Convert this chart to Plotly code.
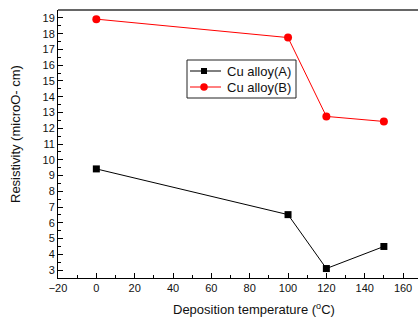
import plotly.graph_objects as go

temps = [0, 100, 120, 150]
alloy_a = [9.42, 6.52, 3.1, 4.5]
alloy_b = [18.92, 17.75, 12.75, 12.43]
names = ["Cu alloy(A)", "Cu alloy(B)"]
colors = ["black", "#ff0000"]
symbols = ["square", "circle"]
sizes = [7, 8]
legend_sizes = [6, 7.5]
x_ticks = [-20, 0, 20, 40, 60, 80, 100, 120, 140, 160]
y_ticks = list(range(3, 20))

W, H = 418, 321
ml, mt, mb = 58, 10, 43
bottom_px = H - mb

fig = go.Figure()
for xs, ys, nm, c, s, sz in [(temps, alloy_a, names[0], colors[0], symbols[0], sizes[0]),
                             (temps, alloy_b, names[1], colors[1], symbols[1], sizes[1])]:
    fig.add_trace(go.Scatter(x=xs, y=ys, mode="lines+markers", name=nm,
                             line=dict(color=c, width=1),
                             marker=dict(symbol=s, size=sz, color=c), showlegend=False))

# custom legend drawn in pixel space via hidden overlay axes
leg_x0, leg_x1, leg_y0, leg_y1 = 187, 296, 60, 98
row_y = [71, 87]
fig.add_shape(type="rect", xref="x2", yref="y2", x0=leg_x0, x1=leg_x1, y0=leg_y0, y1=leg_y1,
              line=dict(color="#222", width=1), fillcolor="white", layer="below")
for i in range(2):
    fig.add_shape(type="line", xref="x2", yref="y2", x0=190, x1=221, y0=row_y[i], y1=row_y[i],
                  line=dict(color=colors[i], width=1), layer="below")
    fig.add_annotation(text=names[i], xref="x2", yref="y2", x=225, y=row_y[i],
                       xanchor="left", yanchor="middle", showarrow=False,
                       font=dict(size=13, color="#111"))
    fig.add_trace(go.Scatter(x=[204], y=[row_y[i]], xaxis="x2", yaxis="y2", mode="markers",
                             marker=dict(symbol=symbols[i], size=legend_sizes[i], color=colors[i]),
                             showlegend=False, hoverinfo="skip"))

fig.update_layout(
    width=W, height=H,
    margin=dict(l=ml, r=0, t=mt, b=mb),
    paper_bgcolor="white", plot_bgcolor="white",
    font=dict(family="Liberation Sans, Arial, sans-serif", size=11, color="#111"),
    showlegend=False,
    xaxis=dict(range=[-20, 167.8], tickvals=x_ticks, ticks="inside", ticklen=5,
               tickcolor="black", showline=True, linecolor="black", linewidth=1,
               showgrid=False, zeroline=False,
               minor=dict(ticks="inside", ticklen=3, dtick=10, tickcolor="black"),
               tickfont=dict(size=11)),
    yaxis=dict(range=[2.5, 19.5], tickvals=y_ticks, ticks="inside", ticklen=5,
               tickcolor="black", showline=True, linecolor="black", linewidth=1,
               showgrid=False, zeroline=False,
               minor=dict(ticks="inside", ticklen=3, dtick=0.5, tickcolor="black"),
               tickfont=dict(size=11)),
    xaxis2=dict(range=[ml, W], overlaying="x", visible=False, fixedrange=True),
    yaxis2=dict(range=[bottom_px, mt], overlaying="y", visible=False, fixedrange=True),
)
fig.add_shape(type="line", xref="paper", yref="paper", x0=0, x1=1, y0=1, y1=1,
              line=dict(color="#666", width=2))
fig.add_annotation(text="Deposition temperature (<sup>o</sup>C)", xref="paper", yref="paper",
                   x=(254.5 - ml) / (W - ml), y=-(319 - bottom_px) / (bottom_px - mt),
                   xanchor="center", yanchor="bottom",
                   showarrow=False, font=dict(size=13))
fig.add_annotation(text="Resistivity (microO- cm)", xref="paper", yref="paper",
                   x=-(ml - 15) / (W - ml), y=1 - (134 - mt) / (bottom_px - mt),
                   xanchor="center", yanchor="middle", textangle=-90,
                   showarrow=False, font=dict(size=13))
fig.write_html("out.html")
